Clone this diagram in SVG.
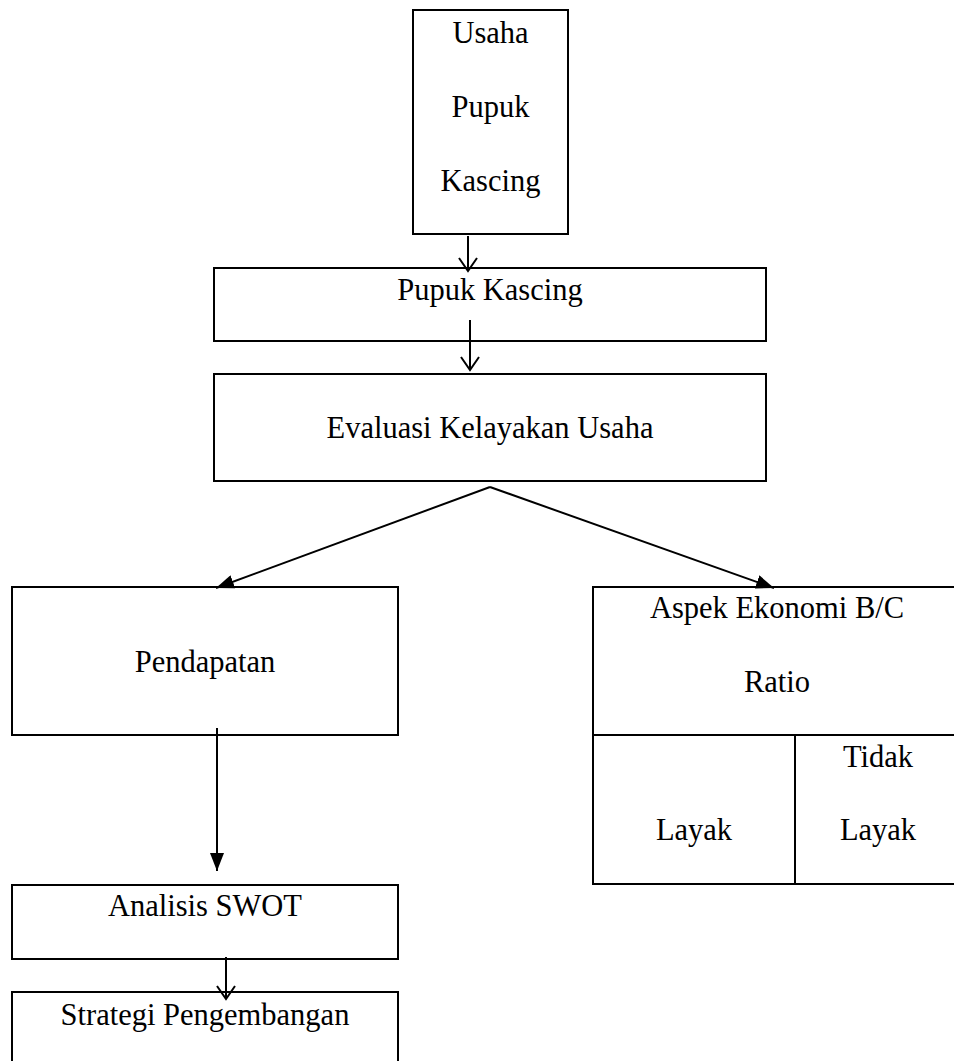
<svg xmlns="http://www.w3.org/2000/svg" width="954" height="1061" viewBox="0 0 954 1061">
<style>
.box{fill:#fff;stroke:#000;stroke-width:2}
.t{font-family:"Liberation Serif","Times New Roman",serif;font-size:30.5px;fill:#000;text-anchor:middle}
.c{stroke:#000;stroke-width:2;fill:none}
</style>
<defs>
<marker id="open" viewBox="0 0 16 20" refX="14" refY="10" markerWidth="16" markerHeight="20" markerUnits="userSpaceOnUse" orient="auto">
<path d="M1,1 L14,10 L1,19" fill="none" stroke="#000" stroke-width="2"/>
</marker>
<marker id="fill" viewBox="0 0 18 14" refX="18" refY="7" markerWidth="18" markerHeight="14" markerUnits="userSpaceOnUse" orient="auto">
<path d="M0,0 L18,7 L0,14 Z" fill="#000"/>
</marker>
</defs>
<rect width="954" height="1061" fill="#fff"/>
<g id="n-usaha">
<rect class="box" x="413" y="10" width="155" height="224"/>
<text class="t" x="490.5" y="43">Usaha</text>
<text class="t" x="490.5" y="117">Pupuk</text>
<text class="t" x="490.5" y="191">Kascing</text>
</g>
<g id="n-pupuk">
<rect class="box" x="214" y="268" width="552" height="73"/>
<text class="t" x="490" y="300">Pupuk Kascing</text>
</g>
<g id="n-evaluasi">
<rect class="box" x="214" y="374" width="552" height="107"/>
<text class="t" x="490" y="438">Evaluasi Kelayakan Usaha</text>
</g>
<g id="n-pendapatan">
<rect class="box" x="12" y="587" width="386" height="148"/>
<text class="t" x="205" y="672">Pendapatan</text>
</g>
<g id="n-aspek">
<rect class="box" x="593" y="587" width="370" height="148"/>
<text class="t" x="777" y="618">Aspek Ekonomi B/C</text>
<text class="t" x="777" y="692">Ratio</text>
</g>
<g id="n-layak">
<rect class="box" x="593" y="735" width="202" height="149"/>
<text class="t" x="694" y="840">Layak</text>
</g>
<g id="n-tidak">
<rect class="box" x="795" y="735" width="170" height="149"/>
<text class="t" x="878" y="767">Tidak</text>
<text class="t" x="878" y="840">Layak</text>
</g>
<g id="n-swot">
<rect class="box" x="12" y="885" width="386" height="74"/>
<text class="t" x="205" y="916">Analisis SWOT</text>
</g>
<g id="n-strategi">
<rect class="box" x="12" y="992" width="386" height="80"/>
<text class="t" x="205" y="1025">Strategi Pengembangan</text>
</g>
<g id="connectors">
<line class="c" x1="468" y1="236" x2="468" y2="271" marker-end="url(#open)"/>
<line class="c" x1="470" y1="320" x2="470" y2="370" marker-end="url(#open)"/>
<line class="c" x1="490" y1="487" x2="216" y2="588" marker-end="url(#fill)"/>
<line class="c" x1="490" y1="487" x2="774" y2="588" marker-end="url(#fill)"/>
<line class="c" x1="217" y1="728" x2="217" y2="871" marker-end="url(#fill)"/>
<line class="c" x1="226" y1="957" x2="226" y2="999" marker-end="url(#open)"/>
</g>
</svg>
